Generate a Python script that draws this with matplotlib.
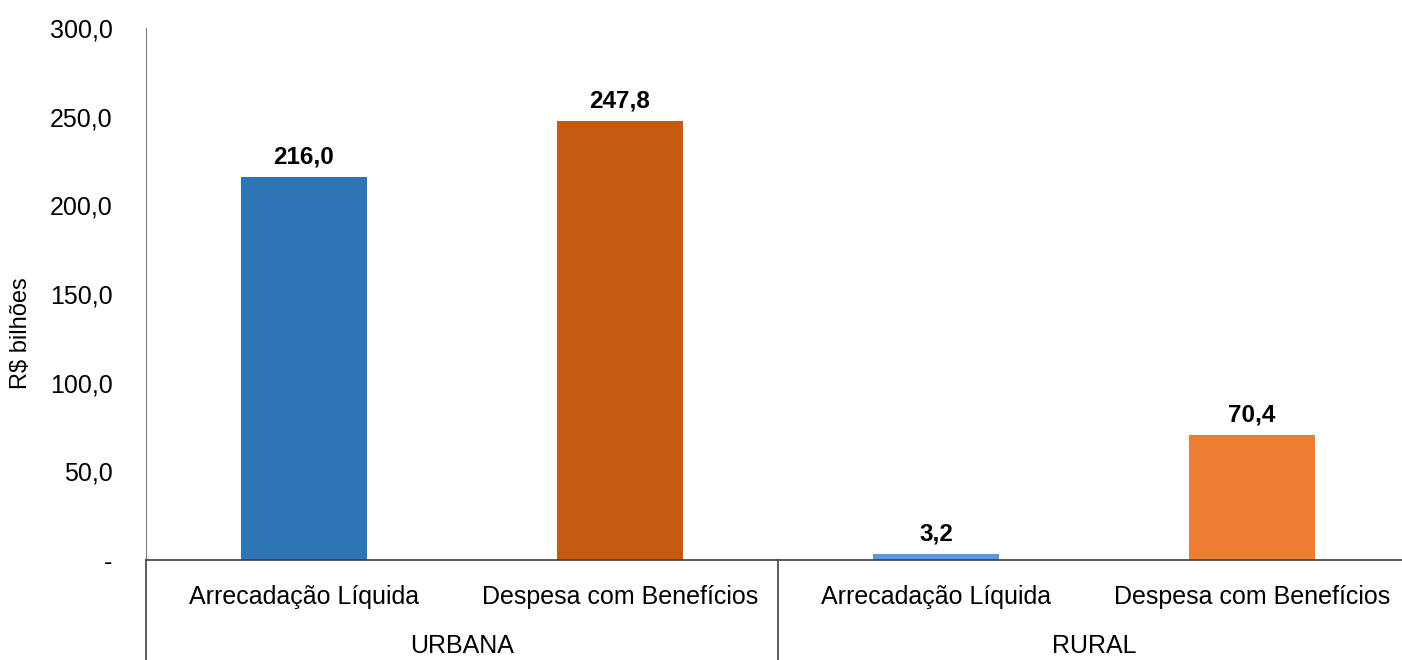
import numpy as np
import matplotlib
matplotlib.use("Agg")
import matplotlib.pyplot as plt
import matplotlib.transforms as mtransforms

plt.rcParams['font.family'] = ['Liberation Sans', 'DejaVu Sans']

groups = ["URBANA", "RURAL"]
categories = ["Arrecadação Líquida", "Despesa com Benefícios",
              "Arrecadação Líquida", "Despesa com Benefícios"]
values = [216.0, 247.8, 3.2, 70.4]
colors = ["#2E75B6", "#C55A11", "#5B9BD5", "#ED7D31"]
yticks = [0, 50, 100, 150, 200, 250, 300]
ytick_labels = ["-", "50,0", "100,0", "150,0", "200,0", "250,0", "300,0"]

fig = plt.figure(figsize=(14.02, 6.6), dpi=100)
ax = fig.add_axes([146 / 1402, 100 / 660, 1264 / 1402, 532 / 660])

x = np.arange(len(values)) + 0.5
ax.bar(x, values, width=0.4, color=colors)

for xi, v in zip(x, values):
    ax.annotate(f"{v:.1f}".replace(".", ","), (xi, v), xytext=(0, 6),
                textcoords="offset points", ha="center", va="bottom",
                fontsize=17.5, fontweight="bold")

ax.set_xlim(0, 4)
ax.set_ylim(0, 300)
ax.set_yticks(yticks)
ax.set_yticklabels(ytick_labels, fontsize=18)
ax.tick_params(axis="y", length=0, pad=24)
ax.set_xticks([])
ax.set_ylabel("R$ bilhões", fontsize=17)
ax.yaxis.set_label_coords(-0.09, 0.427)

for s in ["top", "right"]:
    ax.spines[s].set_visible(False)
ax.spines["left"].set_color("#7f7f7f")
ax.spines["bottom"].set_color("#404040")
ax.spines["bottom"].set_linewidth(1.2)

trans = mtransforms.blended_transform_factory(ax.transData, ax.transAxes)
for xi, c in zip(x, categories):
    ax.text(xi, -0.07, c, transform=trans, ha="center", va="center", fontsize=18)
for gi, g in enumerate(groups):
    ax.text(1 + 2 * gi, -0.162, g, transform=trans, ha="center", va="center", fontsize=18)

ax.plot([0, 0], [0, -0.2], transform=trans, color="#404040", lw=1.2, clip_on=False)
ax.plot([2, 2], [0, -0.2], transform=trans, color="#404040", lw=1.2, clip_on=False)

fig.savefig("out.png", dpi=100)
